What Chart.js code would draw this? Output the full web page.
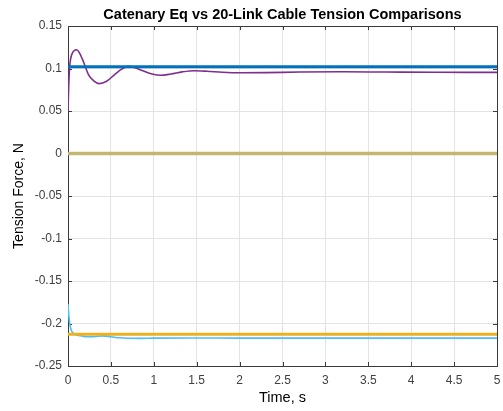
<!DOCTYPE html>
<html>
<head>
<meta charset="utf-8">
<script src="https://cdn.jsdelivr.net/npm/chart.js@4/dist/chart.umd.min.js"></script>
<style>
  html, body { margin: 0; padding: 0; background: #ffffff; }
  #wrap { width: 503px; height: 411px; }
</style>
</head>
<body>
<div id="wrap"><canvas id="c" width="503" height="411"></canvas></div>
<script>
// Axis ticks
const xTickValues = [0, 0.5, 1, 1.5, 2, 2.5, 3, 3.5, 4, 4.5, 5];
const yTickValues = [-0.25, -0.2, -0.15, -0.1, -0.05, 0, 0.05, 0.1, 0.15];

// Catenary equation tensions (constant over time)
const catenaryTime = [0, 5];
const catenaryUpper = [0.102, 0.102];
const catenaryZeroA = [0, 0];
const catenaryZeroB = [0, 0];
const catenaryLower = [-0.2127, -0.2127];

// 20-link cable model, upper end tension
const linkUpperTime = [0, 0.008, 0.018, 0.03, 0.05, 0.08, 0.1, 0.13, 0.18, 0.24, 0.3, 0.365, 0.45, 0.55, 0.63, 0.7, 0.78, 0.88, 0.98, 1.08, 1.2, 1.33, 1.47, 1.62, 1.8, 2.0, 2.3, 2.7, 3.2, 3.7, 4.3, 5.0];
const linkUpperForce = [0.05, 0.078, 0.100, 0.111, 0.118, 0.1215, 0.122, 0.119, 0.108, 0.0925, 0.0855, 0.0822, 0.0850, 0.0935, 0.0995, 0.1025, 0.1010, 0.0970, 0.0935, 0.0920, 0.0935, 0.0960, 0.0974, 0.0968, 0.0956, 0.0950, 0.0952, 0.0958, 0.0961, 0.0958, 0.0955, 0.0955];

// 20-link cable model, lower end tension
const linkLowerTime = [0, 0.006, 0.012, 0.022, 0.035, 0.05, 0.07, 0.1, 0.15, 0.22, 0.3, 0.4, 0.5, 0.6, 0.7, 0.85, 1.0, 1.5, 2.0, 3.0, 4.0, 5.0];
const linkLowerForce = [-0.177, -0.186, -0.193, -0.201, -0.207, -0.210, -0.2125, -0.2135, -0.2145, -0.2155, -0.2155, -0.2145, -0.2155, -0.2168, -0.2174, -0.2175, -0.2172, -0.2170, -0.2172, -0.2172, -0.2172, -0.2172];

function pairs(ts, vs) {
  return ts.map((t, i) => ({ x: t, y: vs[i] }));
}

const FONT = "'Liberation Sans', Arial, Helvetica, sans-serif";
const AXIS_COLOR = '#3a3a3a';

// Box around the plot area with inward ticks on all four sides (drawn under the curves)
const boxPlugin = {
  id: 'boxTicks',
  beforeDatasetsDraw(chart) {
    const { ctx, chartArea: a, scales } = chart;
    ctx.save();
    ctx.strokeStyle = AXIS_COLOR;
    ctx.lineWidth = 1;
    ctx.beginPath();
    ctx.rect(Math.round(a.left) + 0.5, Math.round(a.top) + 0.5,
             Math.round(a.right - a.left), Math.round(a.bottom - a.top));
    ctx.stroke();
    const len = 4;
    ctx.beginPath();
    scales.x.ticks.forEach(tk => {
      const px = Math.round(scales.x.getPixelForValue(tk.value)) + 0.5;
      ctx.moveTo(px, a.bottom); ctx.lineTo(px, a.bottom - len);
      ctx.moveTo(px, a.top); ctx.lineTo(px, a.top + len);
    });
    scales.y.ticks.forEach(tk => {
      const py = Math.round(scales.y.getPixelForValue(tk.value)) + 0.5;
      ctx.moveTo(a.left, py); ctx.lineTo(a.left + len, py);
      ctx.moveTo(a.right, py); ctx.lineTo(a.right - len, py);
    });
    ctx.stroke();
    ctx.restore();
  }
};

const lineBase = { pointRadius: 0, pointHoverRadius: 0, fill: false, borderJoinStyle: 'round', borderCapStyle: 'butt' };

new Chart(document.getElementById('c'), {
  type: 'line',
  data: {
    datasets: [
      Object.assign({ label: 'Catenary upper', data: pairs(catenaryTime, catenaryUpper), borderColor: '#0072BD', borderWidth: 3 }, lineBase),
      Object.assign({ label: 'Catenary zero A', data: pairs(catenaryTime, catenaryZeroA), borderColor: '#C4B66E', borderWidth: 3.6 }, lineBase),
      Object.assign({ label: 'Catenary zero B', data: pairs(catenaryTime, catenaryZeroB), borderColor: '#929033', borderWidth: 3.0 }, lineBase),
      Object.assign({ label: 'Catenary lower', data: pairs(catenaryTime, catenaryLower), borderColor: '#EDB120', borderWidth: 3 }, lineBase),
      Object.assign({ label: '20-link upper', data: pairs(linkUpperTime, linkUpperForce), borderColor: '#7E2F8E', borderWidth: 1.6, cubicInterpolationMode: 'monotone' }, lineBase),
      Object.assign({ label: '20-link lower', data: pairs(linkLowerTime, linkLowerForce), borderColor: '#4DBEEE', borderWidth: 1.6, cubicInterpolationMode: 'monotone' }, lineBase)
    ]
  },
  options: {
    responsive: false,
    animation: false,
    devicePixelRatio: 1,
    layout: { padding: { left: 0, right: 6, top: 0, bottom: 0 } },
    plugins: {
      legend: { display: false },
      tooltip: { enabled: false },
      title: {
        display: true,
        fullSize: false,
        text: 'Catenary Eq vs 20-Link Cable Tension Comparisons',
        color: '#000000',
        font: { family: FONT, size: 14.5, weight: 'bold' },
        padding: { top: 6, bottom: 2.6 }
      }
    },
    scales: {
      x: {
        type: 'linear',
        min: 0, max: 5,
        afterBuildTicks(scale) { scale.ticks = xTickValues.map(v => ({ value: v })); },
        afterFit(scale) { scale.height = 45; scale.paddingLeft = 0; scale.paddingRight = 0; },
        grid: { color: '#e3e3e3', lineWidth: 1, drawTicks: false },
        border: { display: true, color: AXIS_COLOR },
        ticks: {
          color: '#404040', padding: 7,
          font: { family: FONT, size: 12 },
          maxRotation: 0,
          callback: v => String(Number(v.toFixed(2)))
        },
        title: {
          display: true, text: 'Time, s', color: '#000000',
          font: { family: FONT, size: 14.5 },
          padding: { top: 0, bottom: 4 }
        }
      },
      y: {
        type: 'linear',
        min: -0.25, max: 0.15,
        afterBuildTicks(scale) { scale.ticks = yTickValues.map(v => ({ value: v })); },
        afterFit(scale) { scale.width = 68; scale.paddingTop = 0; scale.paddingBottom = 0; },
        grid: { color: '#e3e3e3', lineWidth: 1, drawTicks: false },
        border: { display: true, color: AXIS_COLOR },
        ticks: {
          color: '#404040', padding: 6,
          font: { family: FONT, size: 12 },
          callback: v => String(Number(v.toFixed(2)))
        },
        title: {
          display: true, text: 'Tension Force, N', color: '#000000',
          font: { family: FONT, size: 14 },
          padding: { top: 11, bottom: 0 }
        }
      }
    }
  },
  plugins: [boxPlugin]
});
</script>
</body>
</html>
